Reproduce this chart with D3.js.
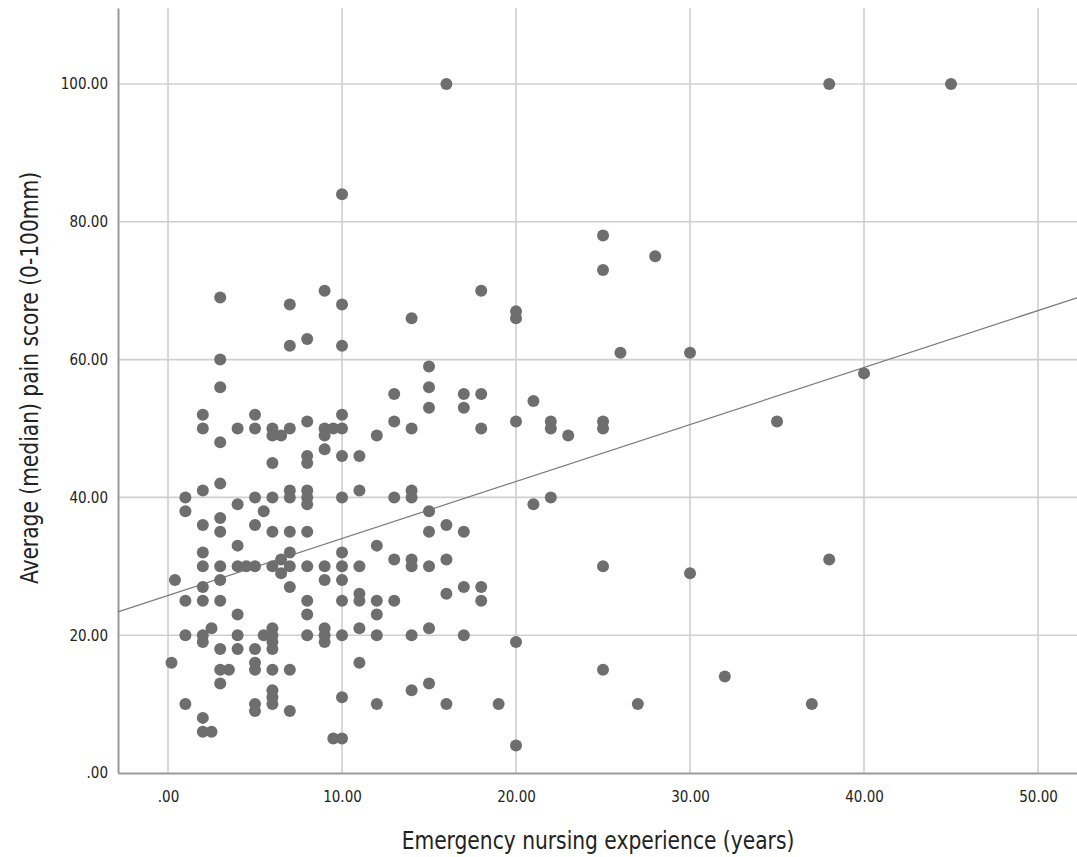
<!DOCTYPE html>
<html lang="en">
<head>
  <meta charset="utf-8">
  <title>Pain score vs experience</title>
  <script src="https://d3js.org/d3.v7.min.js"></script>
  <style>
    body { margin: 0; background: #fff; }
    text { font-family: "Liberation Sans Narrow", "DejaVu Sans Condensed", "Liberation Sans", sans-serif; fill: #222; }
  </style>
</head>
<body>
<script>
  // years of emergency nursing experience (x) and average pain score (y)
  var experience = [
    0.2, 0.4,
    1, 1, 1, 1, 1,
    2, 2, 2, 2, 2, 2, 2, 2, 2, 2, 2, 2,
    2.5, 2.5,
    3, 3, 3, 3, 3, 3, 3, 3, 3, 3, 3, 3, 3,
    3.5,
    4, 4, 4, 4, 4, 4, 4,
    4.5,
    5, 5, 5, 5, 5, 5, 5, 5, 5, 5,
    5.5, 5.5,
    6, 6, 6, 6, 6, 6, 6, 6, 6, 6, 6, 6, 6, 6,
    6.5, 6.5, 6.5,
    7, 7, 7, 7, 7, 7, 7, 7, 7, 7, 7,
    8, 8, 8, 8, 8, 8, 8, 8, 8, 8, 8, 8,
    9, 9, 9, 9, 9, 9, 9, 9, 9,
    9.5, 9.5,
    10, 10, 10, 10, 10, 10, 10, 10, 10, 10, 10, 10, 10, 10,
    11, 11, 11, 11, 11, 11, 11,
    12, 12, 12, 12, 12, 12,
    13, 13, 13, 13, 13,
    14, 14, 14, 14, 14, 14, 14, 14,
    15, 15, 15, 15, 15, 15, 15, 15,
    16, 16, 16, 16, 16,
    17, 17, 17, 17, 17,
    18, 18, 18, 18, 18,
    19,
    20, 20, 20, 20, 20,
    21, 21,
    22, 22, 22,
    23,
    25, 25, 25, 25, 25, 25,
    26, 27, 28,
    30, 30,
    32, 35, 37,
    38, 38,
    40, 45
  ];
  var painScore = [
    16, 28,
    40, 38, 25, 20, 10,
    52, 50, 41, 36, 32, 30, 27, 25, 20, 19, 8, 6,
    21, 6,
    69, 60, 56, 48, 42, 37, 35, 30, 28, 25, 18, 15, 13,
    15,
    50, 39, 33, 30, 23, 20, 18,
    30,
    52, 50, 40, 36, 30, 18, 16, 15, 10, 9,
    38, 20,
    50, 49, 45, 40, 35, 30, 21, 20, 19, 18, 15, 12, 11, 10,
    49, 31, 29,
    68, 62, 50, 41, 40, 35, 32, 30, 27, 15, 9,
    63, 51, 46, 45, 41, 40, 39, 35, 30, 25, 23, 20,
    70, 50, 49, 47, 30, 28, 21, 20, 19,
    50, 5,
    84, 68, 62, 52, 50, 46, 40, 32, 30, 28, 25, 20, 11, 5,
    46, 41, 30, 26, 25, 21, 16,
    49, 33, 25, 23, 20, 10,
    55, 51, 40, 31, 25,
    66, 50, 41, 40, 31, 30, 20, 12,
    59, 56, 53, 38, 35, 30, 21, 13,
    100, 36, 31, 26, 10,
    55, 53, 35, 27, 20,
    70, 55, 50, 27, 25,
    10,
    67, 66, 51, 19, 4,
    54, 39,
    51, 50, 40,
    49,
    78, 73, 51, 50, 30, 15,
    61, 10, 75,
    61, 29,
    14, 51, 10,
    100, 31,
    58, 100
  ];
  var xTicks = [0, 10, 20, 30, 40, 50];
  var yTicks = [0, 20, 40, 60, 80, 100];
  // fit line as drawn (intercept, slope)
  var fitIntercept = 25.77;
  var fitSlope = 0.827;

  function main() {
    var W = 1077, H = 857;
    var mLeft = 118, mRight = 1077, mTop = 8, mBottom = 773;

    var svg = d3.select("body").append("svg")
      .attr("width", W).attr("height", H);

    var x = d3.scaleLinear().domain([-2.874, 52.24]).range([mLeft, mRight]);
    var y = d3.scaleLinear().domain([0, 111.03]).range([mBottom, mTop]);

    var fmt = function(d) { return d3.format(".2f")(d).replace(/^0\./, "."); };

    // grid
    svg.append("g")
      .selectAll("line").data(xTicks).join("line")
        .attr("x1", d => x(d)).attr("x2", d => x(d))
        .attr("y1", mTop).attr("y2", mBottom)
        .style("stroke", "#cfcfcf").style("stroke-width", 1.6);
    svg.append("g")
      .selectAll("line").data(yTicks.filter(d => d > 0)).join("line")
        .attr("x1", mLeft).attr("x2", mRight)
        .attr("y1", d => y(d)).attr("y2", d => y(d))
        .style("stroke", "#cfcfcf").style("stroke-width", 1.6);

    // axes
    var xAxis = svg.append("g")
      .attr("transform", "translate(0," + mBottom + ")")
      .call(d3.axisBottom(x).tickValues(xTicks).tickFormat(fmt).tickSize(0).tickPadding(18));
    var yAxis = svg.append("g")
      .attr("transform", "translate(" + mLeft + ",0)")
      .call(d3.axisLeft(y).tickValues(yTicks).tickFormat(fmt).tickSize(0).tickPadding(10));
    [xAxis, yAxis].forEach(function(g) {
      g.select(".domain").style("stroke", "#9a9a9a").style("stroke-width", 2);
      g.selectAll("text").style("font-size", "15px").style("fill", "#222")
        .style("font-family", "'DejaVu Sans Condensed', sans-serif");
    });

    // fit line
    var xd = x.domain();
    svg.append("line")
      .attr("x1", x(xd[0])).attr("y1", y(fitIntercept + fitSlope * xd[0]))
      .attr("x2", x(xd[1])).attr("y2", y(fitIntercept + fitSlope * xd[1]))
      .style("stroke", "#7a7a7a").style("stroke-width", 1.2);

    // points
    svg.append("g")
      .selectAll("circle").data(experience).join("circle")
        .attr("cx", d => x(d))
        .attr("cy", (d, i) => y(painScore[i]))
        .attr("r", 6)
        .style("fill", "#6e6e6e");

    // axis titles (narrow, tall lettering like the original)
    svg.append("text")
      .attr("transform", "translate(598,849) scale(0.9,1)")
      .attr("text-anchor", "middle")
      .style("font-size", "25px")
      .text("Emergency nursing experience (years)");
    svg.append("text")
      .attr("transform", "translate(38,378) rotate(-90) scale(0.9,1)")
      .attr("text-anchor", "middle")
      .style("font-size", "25px")
      .text("Average (median) pain score (0-100mm)");
  }
  main();
</script>
</body>
</html>
